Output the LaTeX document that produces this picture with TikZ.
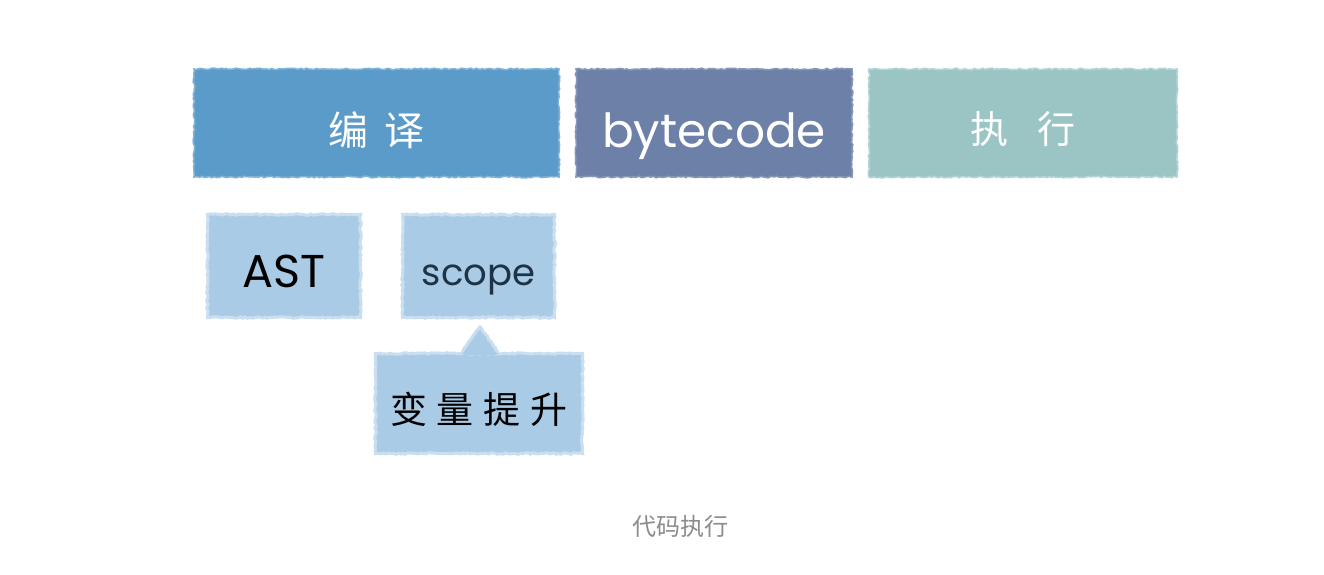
\documentclass[tikz,border=0pt]{standalone}
\usepackage{fontspec}
\setmainfont{Poppins}
\newfontfamily\cjk{Noto Sans CJK SC}
\usetikzlibrary{decorations.pathmorphing,calc}
\definecolor{cblue}{HTML}{5B9BC9}
\definecolor{cblueE}{HTML}{7FB2D6}
\definecolor{cnavy}{HTML}{6C80A8}
\definecolor{cnavyE}{HTML}{8797BA}
\definecolor{cteal}{HTML}{9BC5C5}
\definecolor{ctealE}{HTML}{B3D4D4}
\definecolor{clight}{HTML}{A9CBE6}
\definecolor{clightE}{HTML}{C9DEF0}
\definecolor{cdark}{HTML}{1E3446}
\definecolor{ccap}{HTML}{8C8C8C}
\tikzset{
  rough/.style={decorate,decoration={random steps,segment length=2.5pt,amplitude=0.8pt}},
  topbox/.style={rectangle,inner sep=0pt,minimum height=108pt,text=white,line width=1.6pt,rough},
  subbox/.style={rectangle,inner sep=0pt,fill=clight,draw=clightE,line width=3pt,rough},
}
\begin{document}
\begin{tikzpicture}[x=1pt,y=-1pt]
\useasboundingbox[fill=white] (0,0) rectangle (1324,574);
\node[topbox,fill=cblue,draw=cblueE,minimum width=365pt,text height=44pt,text depth=0pt] (bian) at (376.5,123)
  {\cjk\fontsize{40}{40}\selectfont 编\hspace{16pt}译};
\node[topbox,fill=cnavy,draw=cnavyE,minimum width=276pt,text height=48pt,text depth=0pt] (byte) at (714,123)
  {\fontsize{47}{47}\selectfont bytecode};
\node[topbox,fill=cteal,draw=ctealE,minimum width=308pt,text height=40pt,text depth=0pt] (exec) at (1023,123)
  {\cjk\fontsize{38}{38}\selectfont 执\hspace{30pt}行};
\node[subbox,minimum width=153pt,minimum height=103pt,text height=42pt,text depth=0pt] (ast) at (284,266)
  {\fontsize{46}{46}\selectfont AST};
\node[subbox,minimum width=152pt,minimum height=103pt,text=cdark,text height=38pt,text depth=0pt] (scope) at (478.5,266)
  {\fontsize{37}{37}\selectfont scope};
\node[subbox,minimum width=207pt,minimum height=100pt,text height=39pt,text depth=0pt] (hoist) at (479,403.5)
  {\cjk\fontsize{37}{37}\selectfont 变\hspace{10pt}量\hspace{10pt}提\hspace{10pt}升};
\coordinate (apex) at ($(scope.south)+(1.5,8)$);
\fill[clight] ($(hoist.north)+(-17,2)$) -- (apex) -- ($(hoist.north)+(19,2)$) -- cycle;
\draw[clightE,line width=3pt,rough] ($(hoist.north)+(-17,0)$) -- (apex) -- ($(hoist.north)+(19,0)$);
\fill[clight] ($(hoist.north)+(-15,3)$) -- ($(apex)+(0,4)$) -- ($(hoist.north)+(17,3)$) -- cycle;
\node[text=ccap] (cap) at (680,526) {\cjk\fontsize{24}{24}\selectfont 代码执行};
\end{tikzpicture}
\end{document}
